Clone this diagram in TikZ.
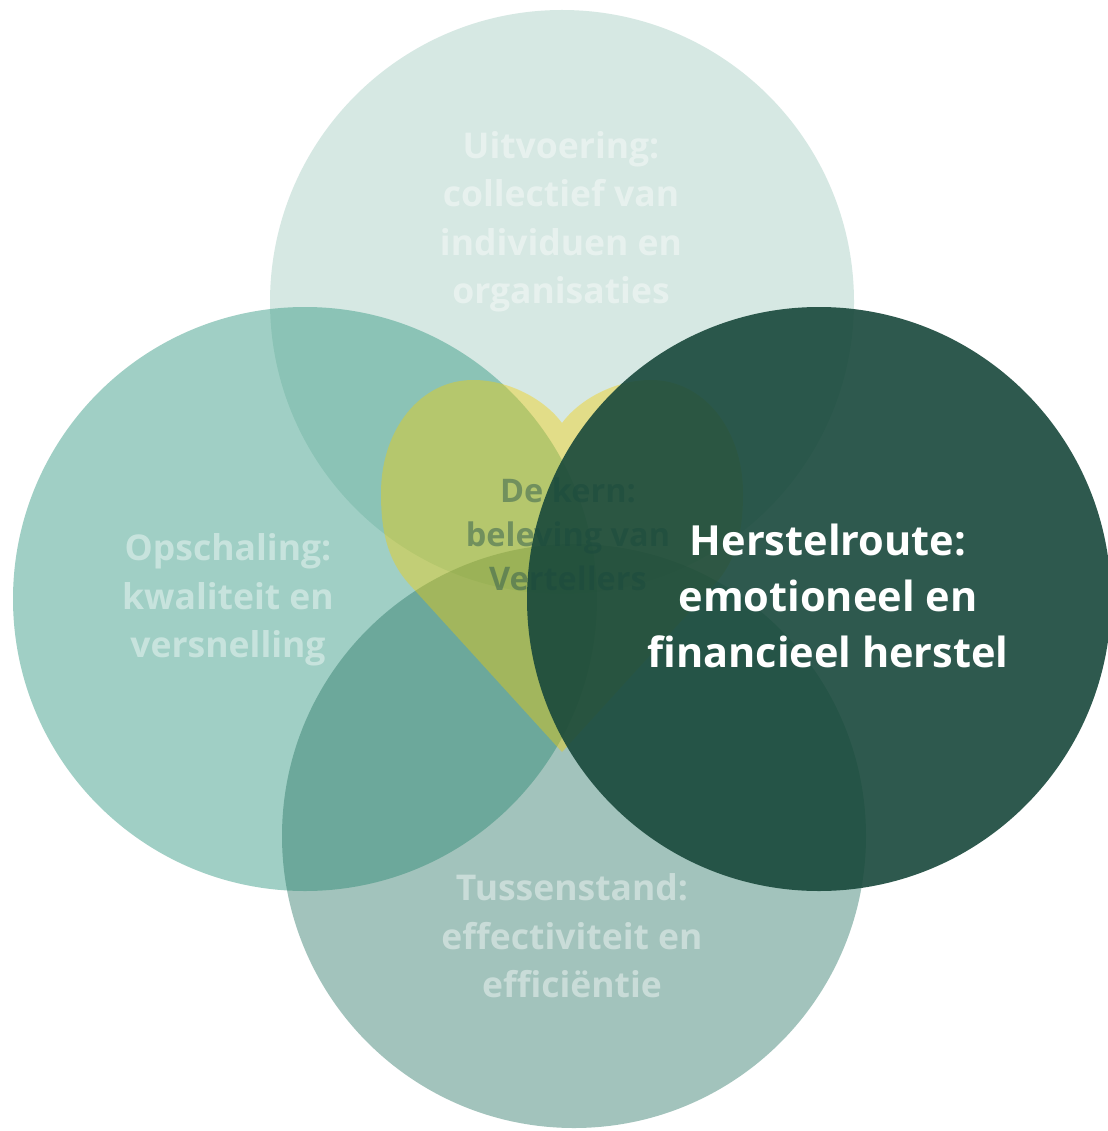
\documentclass[tikz,border=0pt]{standalone}
\usepackage{fontspec}
\setmainfont{Open Sans}
\definecolor{topc}{RGB}{214,232,227}
\definecolor{leftc}{RGB}{55,155,132}
\definecolor{botc}{RGB}{40,118,100}
\definecolor{heartc}{RGB}{245,205,0}
\definecolor{rightc}{RGB}{24,72,59}
\definecolor{kernc}{RGB}{47,90,79}
\begin{document}
\begin{tikzpicture}[x=1pt,y=-1pt,
  lighttext/.style={text=white, text opacity=0.42, align=center, inner sep=0pt,
    font=\bfseries\fontsize{35.5}{48.5}\selectfont},
  kerntext/.style={text=kernc, text opacity=0.5, align=center, inner sep=0pt,
    font=\bfseries\fontsize{32.5}{44}\selectfont},
  maintext/.style={text=white, align=center, inner sep=0pt,
    font=\bfseries\fontsize{41.5}{56}\selectfont}]
\useasboundingbox (0,0) rectangle (1107,1131);
\fill[white] (0,0) rectangle (1107,1131);
% circles
\fill[topc] (562,302) circle[radius=292pt];
\fill[leftc, fill opacity=0.47] (305,599) circle[radius=292pt];
\fill[botc, fill opacity=0.43] (574,836) circle[radius=292pt];
% heart
\fill[heartc, fill opacity=0.4] (562,423)
  .. controls (545,400) and (510,380) .. (473,380)
  .. controls (420,380) and (381,430) .. (381,493)
  .. controls (381,525) and (385,558) .. (410,585)
  -- (562,752) -- (714,585)
  .. controls (739,558) and (743,525) .. (743,493)
  .. controls (743,430) and (704,380) .. (651,380)
  .. controls (614,380) and (579,400) .. cycle;
\node[kerntext] (kern) at (568,534) {De kern:\\beleving van\\Vertellers};
% right circle
\fill[rightc, fill opacity=0.9] (819,599) circle[radius=292pt];
% texts
\node[lighttext] (uitv) at (561,222) {Uitvoering:\\collectief van\\individuen en\\organisaties};
\node[lighttext] (opsch) at (228,600) {Opschaling:\\kwaliteit en\\versnelling};
\node[lighttext] (tuss) at (572,936) {Tussenstand:\\effectiviteit en\\efficiëntie};
\node[maintext] (herst) at (828,596) {Herstelroute:\\emotioneel en\\financieel herstel};
\end{tikzpicture}
\end{document}
